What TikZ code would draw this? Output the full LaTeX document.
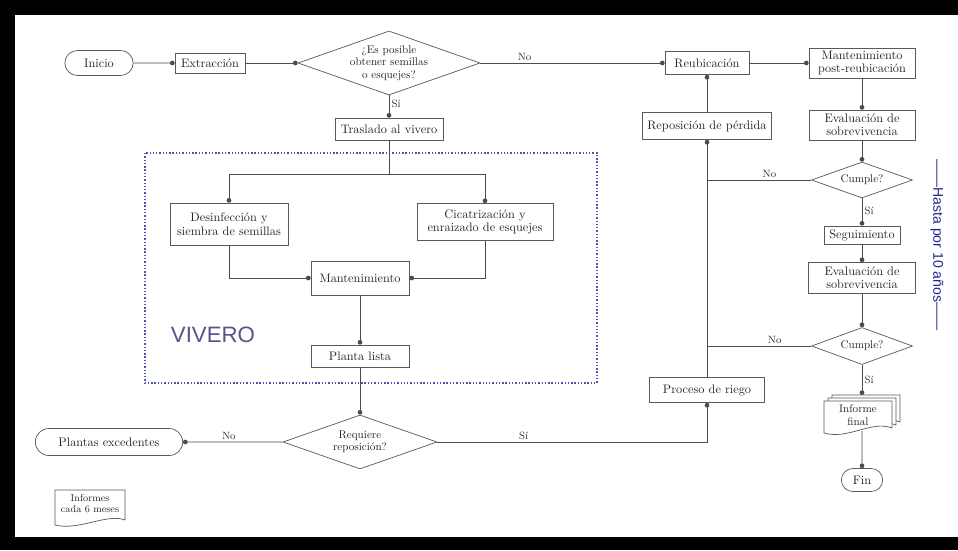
\documentclass[tikz,border=0pt]{standalone}
\usepackage{fontspec}
\newfontfamily\sinserif{Liberation Sans}
\usetikzlibrary{shapes.geometric, shapes.misc, arrows.meta, calc}
\definecolor{azulvivero}{RGB}{75,85,170}
\definecolor{azultexto}{RGB}{85,85,140}
\definecolor{azulhasta}{RGB}{35,40,140}

\begin{document}
\begin{tikzpicture}[x=0.03cm, y=-0.03cm,
  caja/.style={draw=black!65, line width=0.6pt, fill=white, inner sep=2pt, align=center,
    text=black!85, font=\fontsize{10.5}{11.5}\selectfont},
  terminal/.style={caja, rounded rectangle},
  decision/.style={caja, diamond, aspect=2.8, inner sep=0.5pt, font=\fontsize{9.5}{10.5}\selectfont},
  flecha/.style={draw=black!70, line width=0.6pt, -{Circle[length=4pt]}},
  linea/.style={draw=black!70, line width=0.6pt},
  etiq/.style={text=black!80, font=\fontsize{9}{10}\selectfont, inner sep=2pt},
  borde/.style={draw=black!65, line width=0.6pt, fill=white}]

% marco
\useasboundingbox (0,0) rectangle (958,550);
\fill[black] (0,0) rectangle (958,550);
\fill[white] (15,15) rectangle (958,537);

% vivero
\draw[azulvivero, line width=1pt, dash pattern=on 1.2pt off 1.6pt] (145,153) rectangle (597,383);
\node[text=azultexto, font=\sinserif\fontsize{19}{20}\selectfont] (vivero) at (213,335) {VIVERO};

% fila de arriba
\node[terminal, minimum width=2.19cm, minimum height=0.75cm] (inicio) at (99,63) {Inicio};
\node[caja, minimum width=2.1cm, minimum height=0.6cm] (extrac) at (210,63) {Extracción};
\node[decision, minimum width=5.46cm, minimum height=1.92cm] (dec1) at (389,63) {¿Es posible\\obtener semillas\\o esquejes?};
\node[caja, minimum width=2.52cm, minimum height=0.69cm] (reubic) at (707,63) {Reubicación};
\node[caja, minimum width=3.18cm, minimum height=0.9cm] (mantPost) at (862,63) {Mantenimiento\\post-reubicación};

% vivero: cajas
\node[caja, minimum width=3.24cm, minimum height=0.66cm] (traslado) at (389,129) {Traslado al vivero};
\node[caja, minimum width=3.54cm, minimum height=1.26cm] (desinf) at (229,224) {Desinfección y\\siembra de semillas};
\node[caja, minimum width=4.08cm, minimum height=1.11cm] (cicat) at (485,222) {Cicatrización y\\enraizado de esquejes};
\node[caja, minimum width=2.94cm, minimum height=1.02cm] (mant) at (360,278) {Mantenimiento};
\node[caja, minimum width=2.94cm, minimum height=0.66cm] (lista) at (360,356) {Planta lista};

% fila de abajo
\node[decision, minimum width=4.62cm, minimum height=1.62cm] (dec2) at (360,442) {Requiere\\reposición?};
\node[terminal, minimum width=4.56cm, minimum height=0.81cm] (exced) at (109,442) {Plantas excedentes};
\node[caja, minimum width=3.45cm, minimum height=0.75cm] (riego) at (707,390) {Proceso de riego};
\node[caja, minimum width=3.87cm, minimum height=0.81cm] (repos) at (707,126) {Reposición de pérdida};

% columna derecha
\node[caja, minimum width=3.18cm, minimum height=0.9cm] (eval1) at (862,125) {Evaluación de\\sobrevivencia};
\node[decision, minimum width=3.03cm, minimum height=1.08cm] (cumple1) at (862,180) {Cumple?};
\node[caja, minimum width=2.28cm, minimum height=0.54cm] (seguim) at (862,235) {Seguimiento};
\node[caja, minimum width=3.21cm, minimum height=0.93cm] (eval2) at (862,278) {Evaluación de\\sobrevivencia};
\node[decision, minimum width=3.03cm, minimum height=1.11cm] (cumple2) at (862,346) {Cumple?};
\node[terminal, minimum width=1.38cm, minimum height=0.69cm] (fin) at (862,480) {Fin};

% informe final (tres hojas)
\coordinate (infFinal) at (858,417);
\foreach \d in {2,1,0} {
  \draw[borde] ($(infFinal)+(-34+4*\d,-16-3*\d)$) -- ++(68,0) -- ++(0,27)
    .. controls +(-20,-8) and +(24,7) .. ++(-68,5) -- cycle;
}
\node[align=center, text=black!85, font=\fontsize{9.5}{10.5}\selectfont] (infFinalTxt) at ($(infFinal)+(0,-2)$) {Informe\\final};
\coordinate (infTope) at ($(infFinal)+(4,-22)$);
\coordinate (infBase) at ($(infFinal)+(4,14)$);

% informes cada 6 meses
\coordinate (infCada) at (90,507);
\draw[borde] ($(infCada)+(-35,-17)$) -- ++(70,0) -- ++(0,30)
  .. controls +(-18,-7) and +(24,6) .. ++(-70,5) -- cycle;
\node[align=center, text=black!85, font=\fontsize{8.5}{9.5}\selectfont] (infCadaTxt) at ($(infCada)+(0,-3)$) {Informes\\cada 6 meses};

% hasta por 10 años
\node[rotate=-90, text=azulhasta, font=\sinserif\fontsize{12}{13}\selectfont] (hasta) at (937,245) {——Hasta por 10 años——};

% conectores
\draw[flecha] (inicio) -- (extrac);
\draw[flecha] (extrac) -- (dec1);
\draw[flecha] (dec1) -- node[etiq, above, pos=0.24] {No} (reubic);
\draw[flecha] (dec1) -- node[etiq, right, pos=0.4] {Sí} (traslado);
\coordinate (rama) at (389,174);
\draw[linea] (traslado) -- (rama);
\draw[flecha] (rama) -| (desinf);
\draw[flecha] (rama) -| (cicat);
\draw[flecha] (desinf) |- (mant);
\draw[flecha] (cicat) |- (mant);
\draw[flecha] (mant) -- (lista);
\draw[flecha] (lista) -- (dec2);
\draw[flecha] (dec2) -- node[etiq, above, pos=0.54] {No} (exced);
\draw[flecha] (dec2) -| node[etiq, above, pos=0.16] {Sí} (riego);
\draw[flecha] (riego) -- (repos);
\draw[flecha] (repos) -- (reubic);
\draw[flecha] (reubic) -- (mantPost);
\draw[flecha] (mantPost) -- (eval1);
\draw[flecha] (eval1) -- (cumple1);
\coordinate (junta1) at (repos |- cumple1);
\draw[linea] (cumple1) -- node[etiq, above, pos=0.4] {No} (junta1);
\draw[flecha] (cumple1) -- node[etiq, right, pos=0.45] {Sí} (seguim);
\draw[flecha] (seguim) -- (eval2);
\draw[flecha] (eval2) -- (cumple2);
\coordinate (junta2) at (repos |- cumple2);
\draw[linea] (cumple2) -- node[etiq, above, pos=0.35] {No} (junta2);
\draw[flecha] (cumple2) -- node[etiq, right, pos=0.5] {Sí} (infTope);
\draw[flecha] (infBase) -- (fin);

\end{tikzpicture}
\end{document}
